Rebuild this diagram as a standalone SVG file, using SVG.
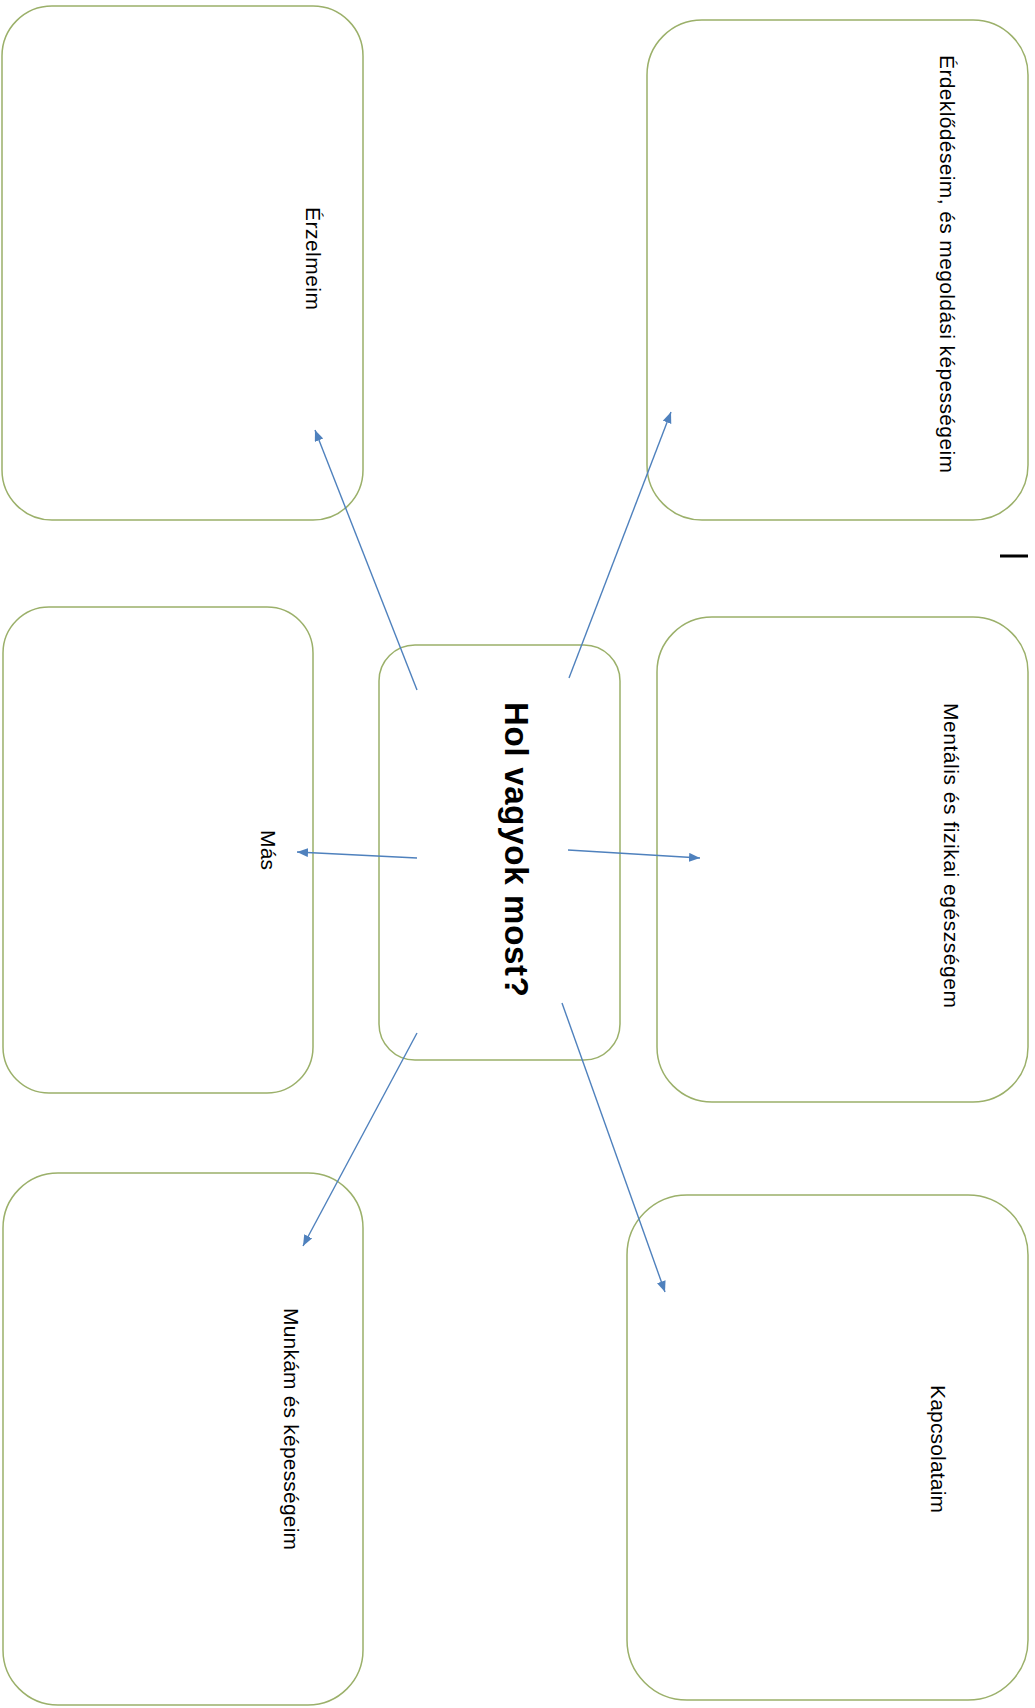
<svg xmlns="http://www.w3.org/2000/svg" width="1035" height="1708" viewBox="0 0 1035 1708">
<style>
.box{fill:#ffffff;stroke:#9bb06a;stroke-width:1.5}
.lbl{font-family:"Liberation Sans","Open Sans",sans-serif;font-size:21px;fill:#000000;dominant-baseline:central}
.title{font-family:"Liberation Sans","Open Sans",sans-serif;font-size:33px;font-weight:bold;fill:#000000;dominant-baseline:central}
.conn{stroke:#4f81bd;stroke-width:1.4;fill:none;marker-end:url(#ah)}
</style>
<defs>
<marker id="ah" markerUnits="userSpaceOnUse" markerWidth="12" markerHeight="10" refX="11" refY="4.5" orient="auto">
<path d="M0,0 L11,4.5 L0,9 z" fill="#4f81bd"/>
</marker>
</defs>
<rect width="1035" height="1708" fill="#ffffff"/>
<g id="node-erzelmeim">
<rect class="box" x="2" y="6" width="361" height="514" rx="50" ry="50"/>
<text class="lbl" transform="translate(313,207) rotate(90)" textLength="103">Érzelmeim</text>
</g>
<g id="node-erdeklodeseim">
<rect class="box" x="647" y="20" width="381" height="500" rx="55" ry="55"/>
<text class="lbl" transform="translate(947,55) rotate(90)" textLength="418">Érdeklődéseim, és megoldási képességeim</text>
</g>
<g id="node-center">
<rect class="box" x="379" y="645" width="241" height="415" rx="36" ry="36"/>
<text class="title" transform="translate(516,702) rotate(90)" textLength="295">Hol vagyok most?</text>
</g>
<g id="node-mas">
<rect class="box" x="3" y="607" width="310" height="486" rx="46" ry="46"/>
<text class="lbl" transform="translate(268,830) rotate(90)" textLength="40">Más</text>
</g>
<g id="node-mentalis">
<rect class="box" x="657" y="617" width="371" height="485" rx="55" ry="55"/>
<text class="lbl" transform="translate(951,703) rotate(90)" textLength="305">Mentális és fizikai egészségem</text>
</g>
<g id="node-munkam">
<rect class="box" x="3" y="1173" width="360" height="532" rx="55" ry="55"/>
<text class="lbl" transform="translate(291,1308) rotate(90)" textLength="242">Munkám és képességeim</text>
</g>
<g id="node-kapcsolataim">
<rect class="box" x="627" y="1195" width="401" height="505" rx="60" ry="60"/>
<text class="lbl" transform="translate(938,1385) rotate(90)" textLength="128">Kapcsolataim</text>
</g>
<g id="connectors">
<line class="conn" x1="417" y1="690" x2="315" y2="430"/>
<line class="conn" x1="569" y1="678" x2="671" y2="412"/>
<line class="conn" x1="417" y1="858" x2="297" y2="852"/>
<line class="conn" x1="568" y1="850" x2="700" y2="858"/>
<line class="conn" x1="417" y1="1033" x2="303" y2="1246"/>
<line class="conn" x1="562" y1="1003" x2="665" y2="1292"/>
</g>
<rect id="dash" x="1000" y="554.5" width="28" height="3" fill="#000000"/>
</svg>
